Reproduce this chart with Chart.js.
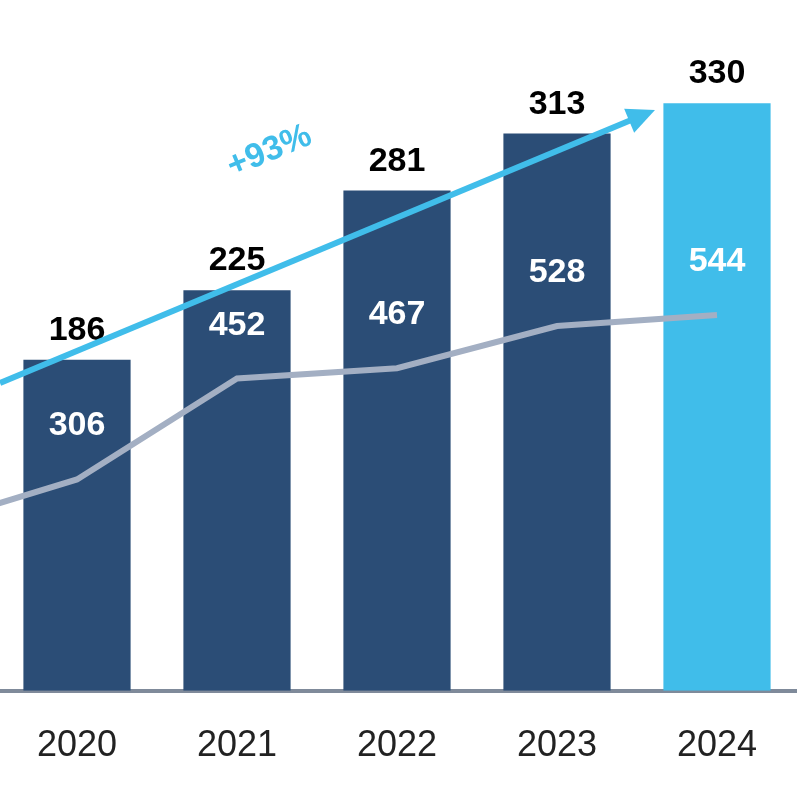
<!DOCTYPE html>
<html>
<head>
<meta charset="utf-8">
<script src="https://cdn.jsdelivr.net/npm/chart.js@4"></script>
<style>
  html, body { margin: 0; padding: 0; overflow: hidden; background: #fff; }
  #wrap { position: absolute; left: -163px; top: 0; width: 960px; height: 800px; }
</style>
</head>
<body>
<div id="wrap"><canvas id="chart"></canvas></div>
<script>
const years = ["2019", "2020", "2021", "2022", "2023", "2024"];
const barValues = [null, 186, 225, 281, 313, 330];
const lineValues = [235, 306, 452, 467, 528, 544];
const growthLabel = "+93%";

const NAVY = "#2b4d76";
const CYAN = "#40bdea";

const labelsPlugin = {
    id: "labels",
    afterDatasetsDraw(chart) {
        const c = chart.ctx;
        const bars = chart.getDatasetMeta(1).data;
        const pts = chart.getDatasetMeta(0).data;
        c.save();
        c.textAlign = "center";
        c.textBaseline = "alphabetic";
        c.font = "bold 34px 'Liberation Sans', Arial";
        bars.forEach((b, i) => {
            if (barValues[i] == null) return;
            c.fillStyle = "#000";
            c.fillText(barValues[i], b.x, b.y - 20);
            c.fillStyle = "#fff";
            c.fillText(lineValues[i], b.x, pts[i].y - 44);
        });
        // growth arrow
        const x0 = chart.scales.x.getPixelForValue(1) - 240;
        const p1 = { x: x0 + 163, y: 383 };
        const p2 = { x: x0 + 163 + 655, y: 110 };
        const ang = Math.atan2(p2.y - p1.y, p2.x - p1.x);
        c.strokeStyle = CYAN;
        c.fillStyle = CYAN;
        c.lineWidth = 6;
        c.beginPath();
        c.moveTo(p1.x, p1.y);
        c.lineTo(p2.x - 18 * Math.cos(ang), p2.y - 18 * Math.sin(ang));
        c.stroke();
        c.beginPath();
        c.moveTo(p2.x, p2.y);
        c.lineTo(p2.x - 28 * Math.cos(ang) + 13 * Math.sin(ang), p2.y - 28 * Math.sin(ang) - 13 * Math.cos(ang));
        c.lineTo(p2.x - 28 * Math.cos(ang) - 13 * Math.sin(ang), p2.y - 28 * Math.sin(ang) + 13 * Math.cos(ang));
        c.closePath();
        c.fill();
        c.translate(x0 + 163 + 273, 160);
        c.rotate(ang);
        c.font = "bold 34px 'Liberation Sans', Arial";
        c.fillText(growthLabel, 0, 0);
        c.restore();
    }
};

new Chart(document.getElementById("chart"), {
    data: {
        labels: years,
        datasets: [
            {
                type: "line",
                data: lineValues,
                yAxisID: "y1",
                borderColor: "#a3afc3",
                borderWidth: 6,
                pointRadius: 0,
                tension: 0,
                order: 0,
            },
            {
                type: "bar",
                data: barValues,
                backgroundColor: years.map((y, i) => i === years.length - 1 ? CYAN : NAVY),
                categoryPercentage: 1,
                barPercentage: 0.67,
                order: 1,
            },
        ],
    },
    options: {
        responsive: true,
        maintainAspectRatio: false,
        animation: false,
        layout: { padding: { top: 0, bottom: 6, left: 0, right: 0 } },
        plugins: { legend: { display: false }, tooltip: { enabled: false } },
        scales: {
            x: {
                grid: { display: false },
                border: { color: "#7f8a9a", width: 4 },
                ticks: {
                    color: "#222",
                    padding: 26,
                    font: { size: 36, family: "'Liberation Sans', Arial" },
                },
            },
            y: { display: false, min: 0, max: 388 },
            y1: { display: false, min: 0, max: 1000 },
        },
    },
    plugins: [labelsPlugin],
});
</script>
</body>
</html>
